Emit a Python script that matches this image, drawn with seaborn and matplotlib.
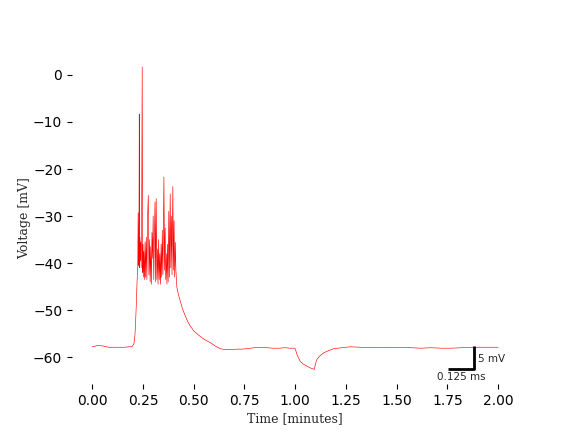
import matplotlib
matplotlib.use("Agg")
import matplotlib.pyplot as plt
import seaborn as sns
import pandas as pd

# Membrane voltage trace (time in minutes, voltage in mV)
time_min = [
    0.000, 0.010, 0.020, 0.030, 0.040, 0.050, 0.060, 0.070, 0.080, 0.100,
    0.120, 0.140, 0.160, 0.180, 0.195, 0.205, 0.210, 0.214, 0.218, 0.221,
    0.224, 0.226, 0.228, 0.230, 0.2315, 0.233, 0.235, 0.237, 0.239, 0.241,
    0.243, 0.246, 0.248, 0.250, 0.252, 0.254, 0.257, 0.260, 0.263, 0.266,
    0.269, 0.272, 0.276, 0.279, 0.282, 0.285, 0.288, 0.291, 0.294, 0.297,
    0.300, 0.303, 0.306, 0.309, 0.312, 0.315, 0.318, 0.321, 0.324, 0.327,
    0.330, 0.333, 0.336, 0.339, 0.342, 0.345, 0.348, 0.351, 0.353, 0.356,
    0.359, 0.362, 0.365, 0.368, 0.371, 0.374, 0.377, 0.380, 0.384, 0.387,
    0.390, 0.393, 0.397, 0.400, 0.403, 0.406, 0.409, 0.412, 0.417, 0.425,
    0.433, 0.445, 0.458, 0.470, 0.483, 0.500, 0.515, 0.532, 0.555, 0.581,
    0.605, 0.630, 0.655, 0.680, 0.710, 0.740, 0.778, 0.800, 0.830, 0.860,
    0.890, 0.920, 0.950, 0.975, 0.995, 1.000, 1.010, 1.025, 1.040, 1.057,
    1.075, 1.095, 1.098, 1.102, 1.107, 1.120, 1.140, 1.160, 1.190, 1.230,
    1.270, 1.320, 1.370, 1.420, 1.470, 1.520, 1.570, 1.620, 1.670, 1.720,
    1.770, 1.820, 1.870, 1.920, 1.960, 2.000,
]
voltage_mv = [
    -57.8, -57.7, -57.6, -57.5, -57.6, -57.6, -57.7, -57.8, -57.9, -57.9,
    -57.9, -57.9, -57.9, -57.8, -57.8, -57.2, -55.5, -52.0, -47.5, -43.5,
    -41.0, -29.3, -40.5, -35.0, -8.3, -41.0, -34.5, -39.5, -35.5, -41.0,
    -34.0, 1.7, -42.0, -36.0, -43.0, -37.5, -43.5, -35.5, -43.0, -34.5,
    -43.5, -31.0, -25.6, -42.5, -35.0, -44.0, -36.5, -44.5, -33.5, -39.0,
    -30.0, -43.5, -35.0, -27.0, -44.0, -26.3, -43.5, -37.0, -44.5, -35.0,
    -43.5, -38.0, -44.5, -36.0, -43.0, -33.0, -42.5, -31.0, -21.7, -41.5,
    -32.5, -43.5, -38.0, -44.5, -36.0, -44.0, -29.0, -43.0, -25.3, -41.0,
    -30.0, -42.5, -23.7, -41.5, -31.0, -43.0, -35.6, -41.5, -45.2, -46.8,
    -48.0, -49.8, -51.2, -52.4, -53.4, -54.4, -55.0, -55.6, -56.3, -56.9,
    -57.6, -58.2, -58.4, -58.4, -58.3, -58.3, -58.1, -58.0, -57.9, -58.0,
    -58.1, -58.1, -58.0, -58.1, -58.1, -58.2, -59.6, -60.9, -61.5, -61.9,
    -62.3, -62.6, -61.8, -61.1, -60.5, -59.8, -59.1, -58.7, -58.2, -58.0,
    -57.8, -57.9, -58.0, -57.9, -58.0, -57.9, -58.0, -58.1, -58.0, -58.1,
    -58.1, -58.0, -57.9, -57.9, -57.9, -57.9,
]

# Scale bar annotation (5 mV by 0.125 time units)
bar_x_end = 1.88
bar_y_low = -62.6
bar_len_x = 0.125
bar_len_y = 5.0
bar_label_y = "5 mV"
bar_label_x = "0.125 ms"

sns.set_style("ticks", {"axes.spines.left": False, "axes.spines.bottom": False,
                        "axes.spines.right": False, "axes.spines.top": False})
plt.rcParams["xtick.major.size"] = 3.5
plt.rcParams["ytick.major.size"] = 3.5
plt.rcParams["xtick.color"] = "black"
plt.rcParams["ytick.color"] = "black"

df = pd.DataFrame({"Time [minutes]": time_min, "Voltage [mV]": voltage_mv})

fig, ax = plt.subplots(figsize=(5.76, 4.32), dpi=100)
sns.lineplot(data=df, x="Time [minutes]", y="Voltage [mV]", color="red",
             linewidth=0.45, estimator=None, sort=False, ax=ax)

ax.plot([bar_x_end - bar_len_x, bar_x_end, bar_x_end],
        [bar_y_low, bar_y_low, bar_y_low + bar_len_y],
        color="black", linewidth=2, solid_capstyle="butt")
ax.text(bar_x_end + 0.02, bar_y_low + bar_len_y / 2 - 0.3, bar_label_y,
        fontsize=7.5, ha="left", va="center")
ax.text(bar_x_end - bar_len_x / 2, bar_y_low - 0.6, bar_label_x,
        fontsize=7.5, ha="center", va="top")

ax.set_xlabel("Time [minutes]", family="DejaVu Serif", fontsize=9, labelpad=3)
ax.set_ylabel("Voltage [mV]", family="DejaVu Serif", fontsize=9, labelpad=1.5)
ax.set_xticks([0.0, 0.25, 0.5, 0.75, 1.0, 1.25, 1.5, 1.75, 2.0])
ax.set_yticks([0, -10, -20, -30, -40, -50, -60])
for s in ax.spines.values():
    s.set_visible(False)

fig.savefig("out.png", dpi=100)
